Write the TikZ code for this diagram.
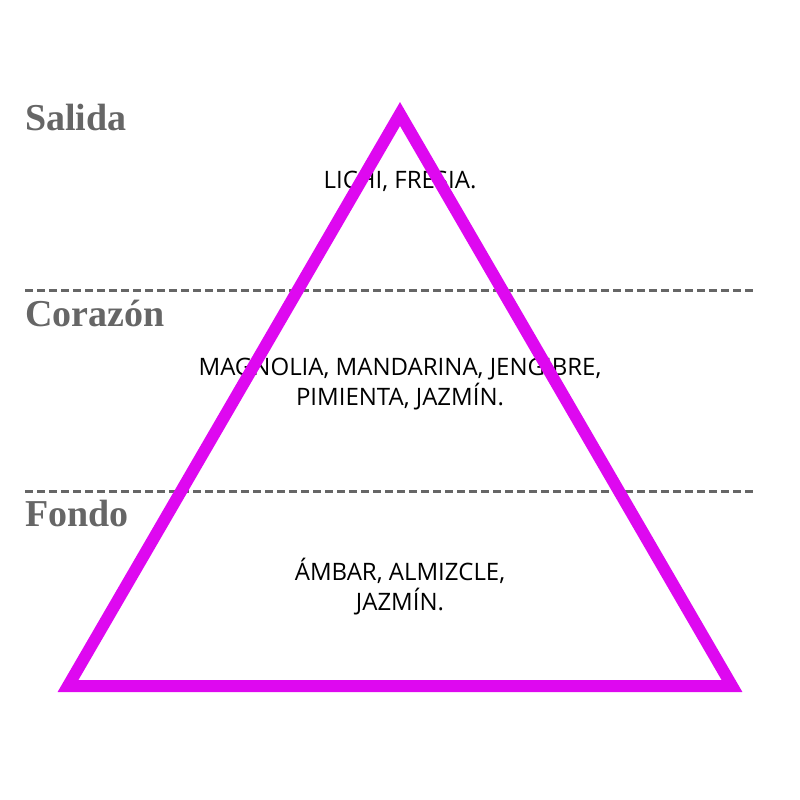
\documentclass[tikz,border=0pt]{standalone}
\usepackage{fontspec}
\setmainfont{Liberation Serif}
\newfontfamily\notesfont{Open Sans}
\definecolor{pyramid}{RGB}{222,8,240}
\definecolor{tiergray}{RGB}{102,102,102}
\tikzset{
  tier/.style={anchor=base west, text=tiergray, inner sep=0pt, font=\fontsize{38}{40}\selectfont\bfseries},
  notes/.style={align=center, inner sep=0pt, font=\notesfont\fontsize{24}{30}\selectfont},
  divider/.style={tiergray, line width=3pt, dash pattern=on 8pt off 4pt}
}

\begin{document}
\begin{tikzpicture}[x=1pt,y=-1pt]
        \useasboundingbox (0,0) rectangle (800,800);
        % tier names
        \node[tier] (salida) at (25,130) {Salida};
        \node[tier] (corazon) at (25,326) {Corazón};
        \node[tier] (fondo) at (25,526) {Fondo};
        % dividers
        \coordinate (div1l) at (25,290);
        \coordinate (div1r) at (755,290);
        \coordinate (div2l) at (25,491);
        \coordinate (div2r) at (755,491);
        \draw[divider] (div1l) -- (div1r);
        \draw[divider] (div2l) -- (div2r);
        % notes
        \node[notes] (salidanotes) at (400,181) {LICHI, FRESIA.};
        \node[notes] (corazonnotes) at (400,384) {MAGNOLIA, MANDARINA, JENGIBRE,\\PIMIENTA, JAZMÍN.};
        \node[notes] (fondonotes) at (400,587) {ÁMBAR, ALMIZCLE,\\JAZMÍN.};
        % pyramid
        \coordinate (apex) at (400,114);
        \coordinate (baseleft) at (68,686);
        \coordinate (baseright) at (732,686);
        \draw[pyramid, line width=12pt, miter limit=10] (apex) -- (baseleft) -- (baseright) -- cycle;
      \end{tikzpicture}
\end{document}
